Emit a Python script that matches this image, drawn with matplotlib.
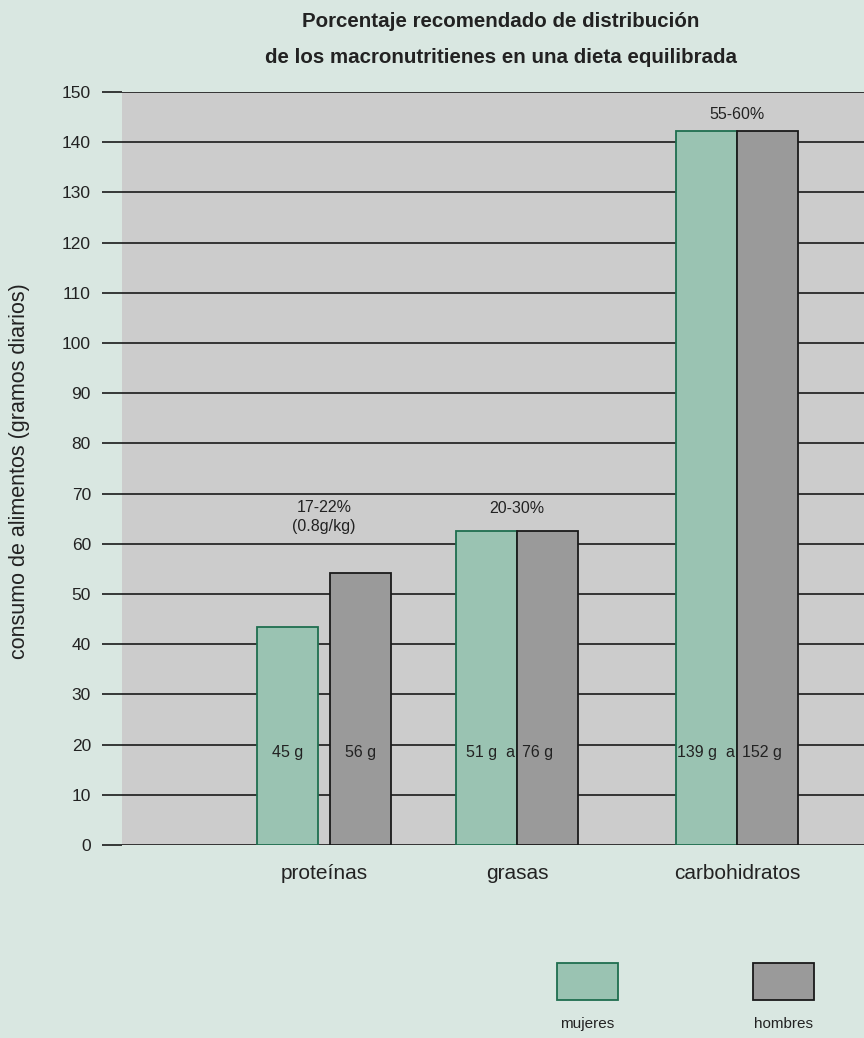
import matplotlib
matplotlib.use("Agg")
import matplotlib.pyplot as plt
from matplotlib.patches import Rectangle

# datos: consumo diario recomendado (gramos)
categorias = ["proteínas", "grasas", "carbohidratos"]
mujeres = [43.5, 62.5, 142.2]
hombres = [54.2, 62.5, 142.2]
etiq_mujeres = ["45 g", "51 g  a", "139 g  a"]
etiq_hombres = ["56 g", "76 g", "152 g"]
porcentajes = ["17-22%\n(0.8g/kg)", "20-30%", "55-60%"]
y_porcentajes = [62, 65.5, 144]
yticks = list(range(0, 151, 10))

# posiciones de las categorias y separacion de las barras
pos = [0.0, 1.0, 2.14]
offs = [0.189, 0.158, 0.158]
ancho = 0.316

fondo = "#d9e7e1"
verde = "#9ac3b2"
borde_verde = "#1f6e4f"
gris = "#9a9a9a"
texto = "#222222"
fuente = ["Liberation Sans", "DejaVu Sans"]

fig = plt.figure(figsize=(8.64, 10.38), dpi=100, facecolor=fondo)
ax = fig.add_axes([122 / 864, 193 / 1038, 742 / 864, 753 / 1038])
ax.set_facecolor("#cccccc")
ax.set_axisbelow(True)

for i in range(len(categorias)):
    ax.bar(pos[i] - offs[i], mujeres[i], width=ancho, color=verde,
           edgecolor=borde_verde, linewidth=1.3, zorder=3)
    ax.bar(pos[i] + offs[i], hombres[i], width=ancho, color=gris,
           edgecolor="#1a1a1a", linewidth=1.3, zorder=3)

ax.set_xlim(-1.047, 2.798)
ax.set_ylim(0, 150)
ax.set_yticks(yticks)
ax.set_yticklabels([str(v) for v in yticks], fontsize=12.5, color=texto,
                   family=fuente)
ax.yaxis.grid(True, color="#1a1a1a", linewidth=1.2)
ax.tick_params(axis="y", length=14.4, width=1.2, color="#1a1a1a", pad=8)
ax.set_xticks(pos)
ax.set_xticklabels(categorias, fontsize=15, color=texto, family=fuente)
ax.tick_params(axis="x", length=0, pad=14)
for s in ["top", "right", "left", "bottom"]:
    ax.spines[s].set_visible(False)

ax.set_ylabel("consumo de alimentos (gramos diarios)", fontsize=15.5,
              color=texto, family=fuente)
ax.yaxis.set_label_coords(-0.124, 0.497)

# etiquetas de gramos dentro de las barras
for i in range(len(categorias)):
    if i == 0:
        ax.text(pos[i] - offs[i], 18.5, etiq_mujeres[i], ha="center",
                va="center", fontsize=11.5, color=texto, family=fuente, zorder=4)
        ax.text(pos[i] + offs[i], 18.5, etiq_hombres[i], ha="center",
                va="center", fontsize=11.5, color=texto, family=fuente, zorder=4)
    else:
        ax.text(pos[i] - 0.012, 18.5, etiq_mujeres[i], ha="right",
                va="center", fontsize=11.5, color=texto, family=fuente, zorder=4)
        ax.text(pos[i] + 0.025, 18.5, etiq_hombres[i], ha="left",
                va="center", fontsize=11.5, color=texto, family=fuente, zorder=4)
    ax.text(pos[i], y_porcentajes[i], porcentajes[i], ha="center",
            va="bottom", fontsize=11.5, color=texto, family=fuente,
            linespacing=1.3)

fig.text(0.58, 1 - 12 / 1038, "Porcentaje recomendado de distribución\n"
         "de los macronutritienes en una dieta equilibrada",
         ha="center", va="top", fontsize=14.8, fontweight="bold", color=texto,
         family=fuente, linespacing=2.15)

# leyenda
for x0, col, ec, nom in [(557, verde, borde_verde, "mujeres"),
                         (753, gris, "#1a1a1a", "hombres")]:
    fig.add_artist(Rectangle((x0 / 864, 38 / 1038), 61 / 864, 37 / 1038,
                             transform=fig.transFigure, facecolor=col,
                             edgecolor=ec, linewidth=1.3))
    fig.text((x0 + 30.5) / 864, 14 / 1038, nom, ha="center", va="center",
             fontsize=11, color=texto, family=fuente)

fig.savefig("out.png", dpi=100, facecolor=fondo)
